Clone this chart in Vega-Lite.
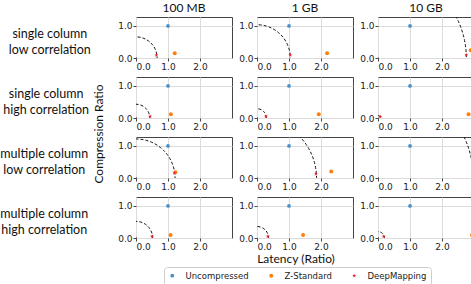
{
  "$schema": "https://vega.github.io/schema/vega-lite/v6.json",
  "padding": {"left": 0, "top": 2, "right": 0, "bottom": 0},
  "data": {"values": [
    {"workload": "single column|low correlation", "size": "100 MB", "method": "Uncompressed", "latency": 1.0, "ratio": 1.0},
    {"workload": "single column|low correlation", "size": "100 MB", "method": "Z-Standard", "latency": 1.21, "ratio": 0.145},
    {"workload": "single column|low correlation", "size": "100 MB", "method": "DeepMapping", "latency": 0.635, "ratio": 0.09, "r": 0.66},
    {"workload": "single column|low correlation", "size": "1 GB", "method": "Uncompressed", "latency": 1.0, "ratio": 1.0},
    {"workload": "single column|low correlation", "size": "1 GB", "method": "Z-Standard", "latency": 2.19, "ratio": 0.145},
    {"workload": "single column|low correlation", "size": "1 GB", "method": "DeepMapping", "latency": 1.04, "ratio": 0.09, "r": 1.04},
    {"workload": "single column|low correlation", "size": "10 GB", "method": "Uncompressed", "latency": 1.0, "ratio": 1.0},
    {"workload": "single column|low correlation", "size": "10 GB", "method": "Z-Standard", "latency": 2.9, "ratio": 0.24},
    {"workload": "single column|low correlation", "size": "10 GB", "method": "DeepMapping", "latency": 2.76, "ratio": 0.1, "r": 2.76},
    {"workload": "single column|high correlation", "size": "100 MB", "method": "Uncompressed", "latency": 1.0, "ratio": 1.0},
    {"workload": "single column|high correlation", "size": "100 MB", "method": "Z-Standard", "latency": 1.09, "ratio": 0.12},
    {"workload": "single column|high correlation", "size": "100 MB", "method": "DeepMapping", "latency": 0.44, "ratio": 0.05, "r": 0.43},
    {"workload": "single column|high correlation", "size": "1 GB", "method": "Uncompressed", "latency": 1.0, "ratio": 1.0},
    {"workload": "single column|high correlation", "size": "1 GB", "method": "Z-Standard", "latency": 1.93, "ratio": 0.12},
    {"workload": "single column|high correlation", "size": "1 GB", "method": "DeepMapping", "latency": 0.28, "ratio": 0.05, "r": 0.29},
    {"workload": "single column|high correlation", "size": "10 GB", "method": "Uncompressed", "latency": 1.0, "ratio": 1.0},
    {"workload": "single column|high correlation", "size": "10 GB", "method": "Z-Standard", "latency": 2.83, "ratio": 0.12},
    {"workload": "single column|high correlation", "size": "10 GB", "method": "DeepMapping", "latency": 0.07, "ratio": 0.04, "r": 0.08},
    {"workload": "multiple column|low correlation", "size": "100 MB", "method": "Uncompressed", "latency": 1.0, "ratio": 1.0},
    {"workload": "multiple column|low correlation", "size": "100 MB", "method": "Z-Standard", "latency": 1.23, "ratio": 0.18},
    {"workload": "multiple column|low correlation", "size": "100 MB", "method": "DeepMapping", "latency": 1.2, "ratio": 0.155, "r": 1.22},
    {"workload": "multiple column|low correlation", "size": "1 GB", "method": "Uncompressed", "latency": 1.0, "ratio": 1.0},
    {"workload": "multiple column|low correlation", "size": "1 GB", "method": "Z-Standard", "latency": 2.32, "ratio": 0.2},
    {"workload": "multiple column|low correlation", "size": "1 GB", "method": "DeepMapping", "latency": 1.84, "ratio": 0.13, "r": 1.86},
    {"workload": "multiple column|low correlation", "size": "10 GB", "method": "Uncompressed", "latency": 1.0, "ratio": 1.0},
    {"workload": "multiple column|low correlation", "size": "10 GB", "method": "Z-Standard", "latency": 2.97, "ratio": 0.27},
    {"workload": "multiple column|low correlation", "size": "10 GB", "method": "DeepMapping", "latency": 2.97, "ratio": 0.11, "r": 2.98},
    {"workload": "multiple column|high correlation", "size": "100 MB", "method": "Uncompressed", "latency": 1.0, "ratio": 1.0},
    {"workload": "multiple column|high correlation", "size": "100 MB", "method": "Z-Standard", "latency": 1.08, "ratio": 0.09},
    {"workload": "multiple column|high correlation", "size": "100 MB", "method": "DeepMapping", "latency": 0.5, "ratio": 0.05, "r": 0.52},
    {"workload": "multiple column|high correlation", "size": "1 GB", "method": "Uncompressed", "latency": 1.0, "ratio": 1.0},
    {"workload": "multiple column|high correlation", "size": "1 GB", "method": "Z-Standard", "latency": 1.44, "ratio": 0.09},
    {"workload": "multiple column|high correlation", "size": "1 GB", "method": "DeepMapping", "latency": 0.34, "ratio": 0.05, "r": 0.36},
    {"workload": "multiple column|high correlation", "size": "10 GB", "method": "Uncompressed", "latency": 1.0, "ratio": 1.0},
    {"workload": "multiple column|high correlation", "size": "10 GB", "method": "Z-Standard", "latency": 2.94, "ratio": 0.09},
    {"workload": "multiple column|high correlation", "size": "10 GB", "method": "DeepMapping", "latency": 0.18, "ratio": 0.05, "r": 0.2}
  ]},
  "facet": {
    "row": {
      "field": "workload", "type": "nominal",
      "sort": ["single column|low correlation", "single column|high correlation", "multiple column|low correlation", "multiple column|high correlation"],
      "header": {
        "labelOrient": "left", "labelAngle": 0, "labelAlign": "center", "labelBaseline": "alphabetic",
        "labelExpr": "split(datum.value, '|')",
        "labelFont": "Lato", "labelFontSize": 12.5, "labelLineHeight": 16, "labelColor": "#111",
        "labelPadding": -15,
        "title": "Compression Ratio", "titleOrient": "left", "titleFont": "Lato", "titleFontSize": 12,
        "titleFontWeight": "normal", "titleColor": "#111", "titlePadding": -116
      }
    },
    "column": {
      "field": "size", "type": "nominal",
      "sort": ["100 MB", "1 GB", "10 GB"],
      "header": {
        "labelOrient": "top", "labelFont": "Lato", "labelFontSize": 12, "labelColor": "#111", "labelPadding": 1,
        "title": "Latency (Ratio)", "titleOrient": "bottom", "titleFont": "Lato", "titleFontSize": 12,
        "titleFontWeight": "normal", "titleColor": "#111", "titlePadding": -8
      }
    }
  },
  "spacing": {"row": 4, "column": 5},
  "resolve": {"axis": {"x": "independent", "y": "independent"}},
  "spec": {
    "width": 96,
    "height": 41,
    "layer": [
      {
        "transform": [{"filter": "datum.method == 'DeepMapping'"}],
        "mark": {"type": "arc", "filled": false, "stroke": "#111", "strokeWidth": 1, "strokeDash": [3, 2], "theta": -0.4, "theta2": 1.97, "clip": true},
        "encoding": {
          "x": {"datum": 0, "type": "quantitative"},
          "y": {"datum": 0, "type": "quantitative"},
          "radius": {"field": "r", "type": "quantitative", "scale": {"type": "linear", "domain": [0, 3], "range": [0, 96], "zero": true, "nice": false}}
        }
      },
      {
        "mark": {"type": "point", "filled": true, "clip": true, "opacity": 1, "strokeWidth": 0},
        "encoding": {
          "x": {"field": "latency", "type": "quantitative", "scale": {"domain": [0, 3], "nice": false, "zero": true},
                "axis": {"values": [0, 1, 2], "format": ".1f", "grid": true}},
          "y": {"field": "ratio", "type": "quantitative", "scale": {"domain": [0, 1.28], "nice": false},
                "axis": {"values": [0, 1], "format": ".1f", "grid": true}},
          "color": {"field": "method", "type": "nominal",
                    "scale": {"domain": ["Uncompressed", "Z-Standard", "DeepMapping"], "range": ["#4a8fc7", "#ff7f0e", "#ee1c24"]},
                    "legend": {"title": null, "orient": "none", "direction": "horizontal", "legendX": 28, "legendY": 250}},
          "shape": {"field": "method", "type": "nominal",
                    "scale": {"domain": ["Uncompressed", "Z-Standard", "DeepMapping"], "range": ["circle", "circle", "M0,-1L0.2245,-0.309L0.951,-0.309L0.363,0.118L0.588,0.809L0,0.382L-0.588,0.809L-0.363,0.118L-0.951,-0.309L-0.2245,-0.309Z"]},
                    "legend": {"title": null, "orient": "none", "direction": "horizontal", "legendX": 28, "legendY": 250}},
          "size": {"field": "method", "type": "nominal",
                   "scale": {"domain": ["Uncompressed", "Z-Standard", "DeepMapping"], "range": [14, 18, 125]},
                   "legend": {"title": null, "orient": "none", "direction": "horizontal", "legendX": 28, "legendY": 250}}
        }
      }
    ]
  },
  "config": {
    "font": "DejaVu Sans",
    "view": {"stroke": "#444", "strokeWidth": 1},
    "axis": {"title": null, "labelFont": "DejaVu Sans", "labelFontSize": 9, "labelColor": "#222", "tickColor": "#444", "tickSize": 3, "domain": false, "gridColor": "#dcdcdc", "gridWidth": 1, "labelPadding": 1},
    "legend": {
      "labelFont": "DejaVu Sans", "labelFontSize": 8.5, "labelColor": "#222",
      "strokeColor": "#cccccc", "fillColor": "white", "padding": 4, "cornerRadius": 3,
      "columnPadding": 17, "labelOffset": 9, "symbolOpacity": 1
    }
  }
}
